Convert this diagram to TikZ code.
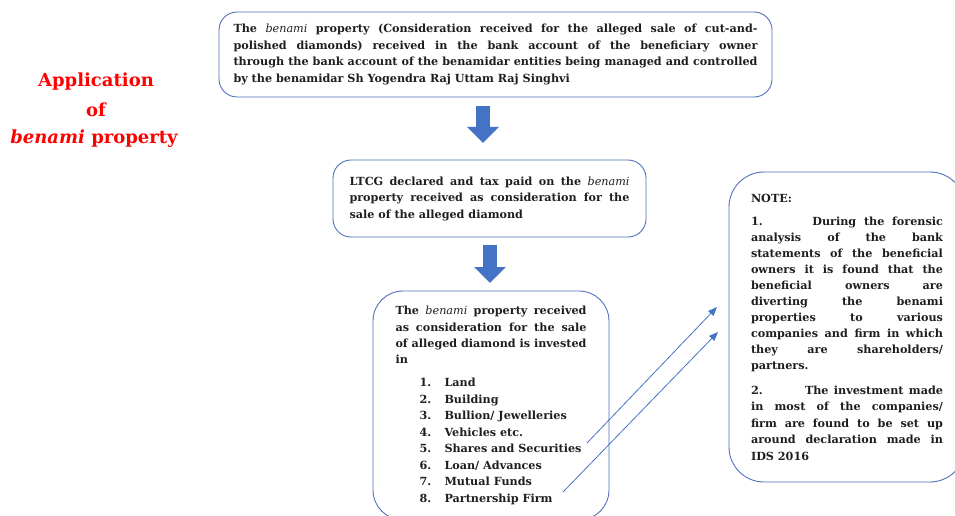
\documentclass[tikz,border=0pt]{standalone}
\usepackage{fontspec}
\setmainfont{DejaVu Serif}
\usetikzlibrary{arrows.meta}
\definecolor{boxline}{HTML}{4F72B8}
\definecolor{flowblue}{HTML}{4472C4}
\definecolor{titlered}{HTML}{FF0000}
\definecolor{bodytext}{HTML}{1E1E1E}
\newcommand{\bnm}{{\mdseries\itshape benami}}

\tikzset{
  bodyfont/.style={font=\bfseries\fontsize{11.2}{16.5}\selectfont, text=bodytext},
  roundbox/.style={draw=boxline, line width=0.9pt, bodyfont, align=justify, inner sep=0pt},
  titletext/.style={text=titlered, font=\bfseries\fontsize{18}{21}\selectfont},
  blockarrow/.style={draw=flowblue, line width=14pt,
    -{Triangle[width=31pt,length=16pt,fill=flowblue]}},
  linkarrow/.style={draw=flowblue, line width=0.8pt,
    -{Triangle[width=7pt,length=9pt,fill=flowblue]}}
}

\begin{document}
\begin{tikzpicture}[x=1pt,y=-1pt]
\useasboundingbox (0,0) rectangle (955,516);
\clip (0,0) rectangle (955,516);

% heading on the left
\node[titletext] (t1) at (96,82) {Application};
\node[titletext] (t2) at (96,110) {of};
\node[titletext] (t3) at (94,139) {{\itshape benami} property};

% first step
\node[roundbox, rounded corners=18pt, minimum width=553pt, minimum height=85pt,
      text width=524pt] (b1) at (495.5,54.5)
{\fontsize{11.2}{17.6}\selectfont
The \bnm{} property (Consideration received for the alleged sale of cut-and-\linebreak
polished diamonds) received in the bank account of the beneficiary owner\linebreak
through the bank account of the benamidar entities being managed and controlled\linebreak
by the benamidar Sh Yogendra Raj Uttam Raj Singhvi};

% second step
\node[roundbox, rounded corners=18pt, minimum width=313pt, minimum height=77pt,
      text width=280pt] (b2) at (489.5,198.5)
{LTCG declared and tax paid on the \bnm\linebreak
property received as consideration for the\linebreak
sale of the alleged diamond};

% third step with the list of investments
\node[roundbox, rounded corners=30pt, minimum width=236pt, minimum height=229pt,
      text width=191pt] (b3) at (491,405.5)
{\fontsize{11.2}{16.3}\selectfont
The \bnm{} property received\linebreak
as consideration for the sale\linebreak
of alleged diamond is invested\linebreak
in\par\vspace{6.5pt}%
\fontsize{11.2}{16}\selectfont
\hspace*{24pt}\makebox[25pt][l]{1.}Land\newline
\hspace*{24pt}\makebox[25pt][l]{2.}Building\newline
\hspace*{24pt}\makebox[25pt][l]{3.}Bullion/ Jewelleries\newline
\hspace*{24pt}\makebox[25pt][l]{4.}Vehicles etc.\newline
\hspace*{24pt}\makebox[25pt][l]{5.}Shares and Securities\newline
\hspace*{24pt}\makebox[25pt][l]{6.}Loan/ Advances\newline
\hspace*{24pt}\makebox[25pt][l]{7.}Mutual Funds\newline
\hspace*{24pt}\makebox[25pt][l]{8.}Partnership Firm};

% note box
\node[roundbox, rounded corners=35pt, minimum width=236pt, minimum height=310pt,
      text width=192pt] (b4) at (847,327)
{NOTE:\par\vspace{7.5pt}%
\fontsize{11.2}{16}\selectfont
1.\hspace{33pt} During the forensic\linebreak
analysis of the bank\linebreak
statements of the beneficial\linebreak
owners it is found that the\linebreak
beneficial owners are\linebreak
diverting the benami\linebreak
properties to various\linebreak
companies and firm in which\linebreak
they are shareholders/\linebreak
partners.\par\vspace{8pt}%
2.\hspace{33pt} The investment made\linebreak
in most of the companies/\linebreak
firm are found to be set up\linebreak
around declaration made in\linebreak
IDS 2016};

% flow arrows between the steps
\coordinate (a1s) at (483,106);
\coordinate (a1e) at (483,143);
\draw[blockarrow] (a1s) -- (a1e);
\coordinate (a2s) at (490,245);
\coordinate (a2e) at (490,283);
\draw[blockarrow] (a2s) -- (a2e);

% links from the list to the note
\coordinate (l1s) at (587,443);
\coordinate (l1e) at (717,307);
\coordinate (l2s) at (563,492);
\coordinate (l2e) at (718,332);
\draw[linkarrow] (l1s) -- (l1e);
\draw[linkarrow] (l2s) -- (l2e);
\end{tikzpicture}
\end{document}
